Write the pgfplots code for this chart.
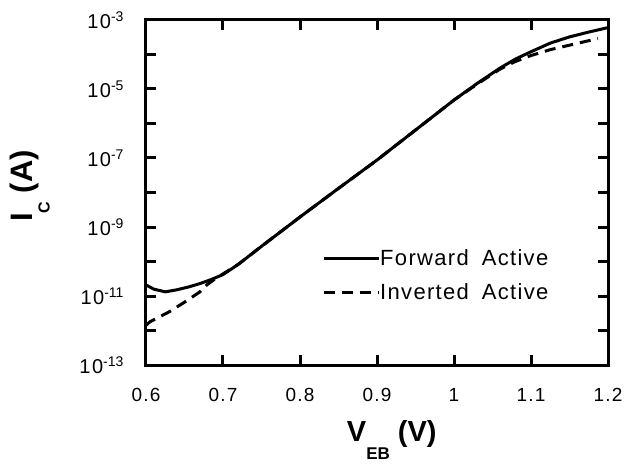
\documentclass[border=0pt]{standalone}
\usepackage{pgfplots}
\pgfplotsset{compat=1.18}
\usepackage{fontspec}
\setmainfont{Liberation Sans}

% decade label 10^k, set in the text font
\newcommand{\dec}[1]{1\kern1.5pt0\raisebox{7pt}{\fontsize{14}{14}\selectfont#1}}
\newcommand{\xl}[2]{#1\kern1.2pt.\kern1.2pt#2}

\begin{document}
\begin{tikzpicture}
\useasboundingbox (-146pt,-98pt) rectangle (482pt,365pt);
\begin{axis}[
    at={(0pt,0pt)}, anchor=south west,
    scale only axis, width=462pt, height=345pt,
    xmin=0.6, xmax=1.2, ymin=-13, ymax=-3,
    xtick={0.6,0.7,0.8,0.9,1.0,1.1,1.2},
    xticklabels={\xl06,\xl07,\xl08,\xl09,1,\xl11,\xl12},
    ytick={-13,-11,-9,-7,-5,-3},
    minor ytick={-12,-10,-8,-6,-4},
    yticklabels={\dec{-13},\dec{-11},\dec{-9},\dec{-7},\dec{-5},\dec{-3}},
    xticklabel style={font=\fontsize{19}{19}\selectfont, yshift=-20pt},
    yticklabel style={font=\fontsize{20}{20}\selectfont, xshift=-19pt},
    tick align=inside,
    major tick length=10pt, minor tick length=10pt,
    every tick/.style={black, line width=3pt},
    axis line style={line width=3pt},
    xlabel={\fontsize{29}{29}\selectfont\bfseries V\raisebox{-18pt}{\fontsize{17}{17}\selectfont EB}\ (V)},
    xlabel style={at={(axis description cs:0.532,-0.217)}, anchor=center},
    ylabel={\fontsize{31}{31}\selectfont\bfseries I\raisebox{-17pt}{\fontsize{16}{16}\selectfont C}\ (A)},
    ylabel style={at={(axis description cs:-0.251,0.519)}, anchor=center},
    legend style={draw=none, fill=none, at={(rel axis cs:0.381,0.334)}, anchor=north west,
        font=\fontsize{22}{22}\selectfont\addfontfeature{LetterSpace=6}, row sep=16pt, inner sep=0pt,
        nodes={inner xsep=0pt, inner ysep=0pt}},
    legend cell align=left,
    legend image code/.code={\draw[#1] (0pt,0pt) -- (55pt,0pt);},
]
\addplot[black, line width=3pt] coordinates {
    (0.600,-10.68) (0.610,-10.80) (0.625,-10.88) (0.640,-10.82) (0.655,-10.74)
    (0.670,-10.64) (0.685,-10.52) (0.700,-10.38) (0.720,-10.08) (0.750,-9.56)
    (0.800,-8.71) (0.850,-7.88) (0.900,-7.06) (0.950,-6.19) (1.000,-5.32)
    (1.030,-4.84) (1.060,-4.39) (1.080,-4.13) (1.100,-3.92) (1.125,-3.67)
    (1.150,-3.49) (1.175,-3.35) (1.200,-3.22)
};
\addlegendentry{Forward\hspace{13pt}Active}
\addplot[black, line width=3pt, dash pattern=on 11pt off 7pt] coordinates {
    (0.600,-11.85) (0.605,-11.75) (0.630,-11.46) (0.650,-11.18) (0.670,-10.88)
    (0.680,-10.66) (0.690,-10.50) (0.700,-10.36) (0.720,-10.08) (0.750,-9.56)
    (0.800,-8.71) (0.850,-7.88) (0.900,-7.06) (0.950,-6.19) (1.000,-5.32)
    (1.030,-4.86) (1.060,-4.42) (1.080,-4.20) (1.100,-4.03) (1.125,-3.86)
    (1.150,-3.73) (1.175,-3.60) (1.187,-3.54)
};
\addlegendentry{Inverted\hspace{13pt}Active}
\end{axis}
\end{tikzpicture}
\end{document}
